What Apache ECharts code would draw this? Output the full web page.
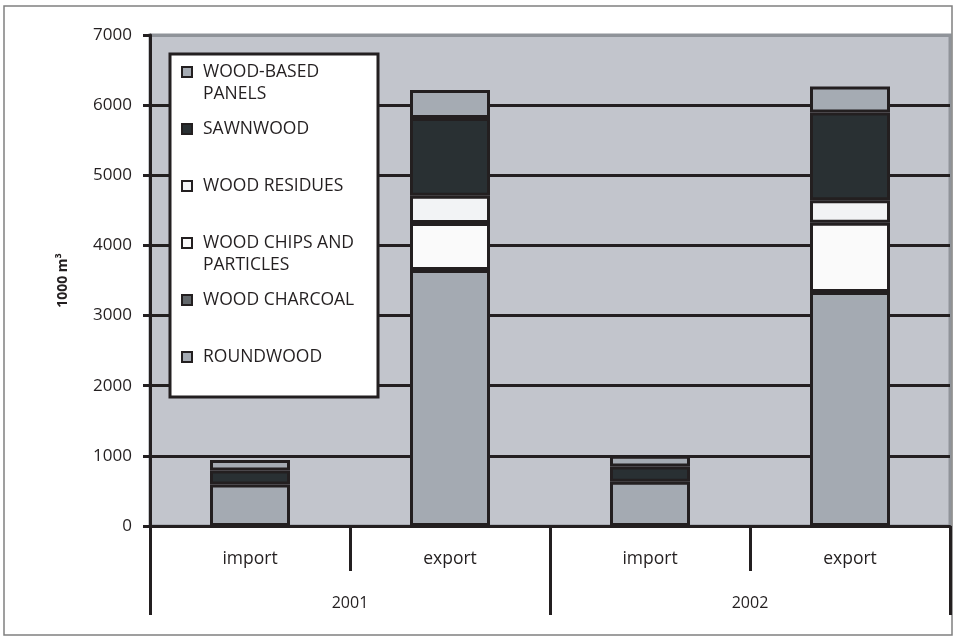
<!DOCTYPE html>
<html>
<head>
<meta charset="utf-8">
<script src="https://cdn.jsdelivr.net/npm/echarts@6/dist/echarts.min.js"></script>
<style>
  html, body { margin: 0; padding: 0; background: #fff; }
  #main { width: 956px; height: 638px; }
</style>
</head>
<body>
<div id="main"></div>
<script>
var flows = ['import', 'export', 'import', 'export'];
var years = ['2001', '2002'];
var yTicks = [0, 1000, 2000, 3000, 4000, 5000, 6000, 7000];

// '-' = nothing recorded for that flow
var roundwood = [590, 3650, 630, 3335];
var charcoal  = ['-', '-', '-', '-'];
var chips     = ['-', 670, '-', 990];
var residues  = ['-', 390, '-', 320];
var sawnwood  = [200, 1105, 220, 1250];
var panels    = [150, 400, 150, 370];

var ink = '#231f20';
var font = 'Open Sans';

// legend labels, padded to three lines so the icon sits on the first text line
var legendText = {
	'WOOD-BASED PANELS': ' \nWOOD-BASED\nPANELS',
	'SAWNWOOD': ' \nSAWNWOOD\n ',
	'WOOD RESIDUES': ' \nWOOD RESIDUES\n ',
	'WOOD CHIPS AND PARTICLES': ' \nWOOD CHIPS AND\nPARTICLES',
	'WOOD CHARCOAL': ' \nWOOD CHARCOAL\n ',
	'ROUNDWOOD': ' \nROUNDWOOD\n '
};

function serie(name, data, color) {
	return {
		name: name,
		type: 'bar',
		stack: 'total',
		barWidth: 80,
		data: data,
		itemStyle: { color: color, borderColor: ink, borderWidth: 3 }
	};
}

var splitColors = [];
for (var i = 0; i < yTicks.length - 1; i++) splitColors.push(ink);
splitColors.push('#8f9399');

var myChart = echarts.init(document.getElementById('main'));
var option = {
	animation: false,
	backgroundColor: '#fff',
	textStyle: { fontFamily: font, color: ink },
	graphic: [
		{
			type: 'rect', z: 0, silent: true,
			shape: { x: 4, y: 6, width: 948, height: 629 },
			style: { fill: 'none', stroke: '#808080', lineWidth: 1.5 }
		},
		{
			type: 'rect', z: 3, silent: true,
			shape: { x: 170, y: 54, width: 208, height: 343 },
			style: { fill: '#fff', stroke: ink, lineWidth: 3 }
		}
	],
	legend: {
		orient: 'vertical',
		left: 181,
		top: 39,
		padding: 0,
		itemGap: -9,
		itemWidth: 10,
		itemHeight: 10,
		z: 5,
		selectedMode: false,
		icon: 'rect',
		itemStyle: { borderColor: ink, borderWidth: 2 },
		textStyle: { fontFamily: font, fontSize: 17.5, color: ink, lineHeight: 22, padding: [0, 0, 0, 6] },
		formatter: function (name) { return legendText[name]; },
		data: ['WOOD-BASED PANELS', 'SAWNWOOD', 'WOOD RESIDUES', 'WOOD CHIPS AND PARTICLES', 'WOOD CHARCOAL', 'ROUNDWOOD']
	},
	grid: {
		left: 150, right: 6, top: 35, bottom: 112,
		show: true,
		backgroundColor: '#c2c5cc',
		borderColor: '#8f9399',
		borderWidth: 3
	},
	xAxis: [
		{
			type: 'category',
			data: flows,
			position: 'bottom',
			axisLine: { show: true, lineStyle: { color: ink, width: 3 } },
			axisTick: { show: true, interval: 0, length: 45, lineStyle: { color: ink, width: 3 } },
			axisLabel: { interval: 0, margin: 24, fontSize: 17.5, color: ink, fontFamily: font },
			splitLine: { show: false }
		},
		{
			type: 'category',
			data: years,
			position: 'bottom',
			axisLine: { show: false },
			axisTick: { show: true, interval: 0, length: 89, lineStyle: { color: ink, width: 3 } },
			axisLabel: { interval: 0, margin: 69, fontSize: 16, color: ink, fontFamily: font },
			splitLine: { show: false }
		}
	],
	yAxis: {
		type: 'value',
		min: 0,
		max: 7000,
		interval: 1000,
		name: '1000 m³',
		nameLocation: 'middle',
		nameGap: 80,
		nameRotate: 90,
		nameTextStyle: { fontWeight: 'bold', fontSize: 14, color: ink, fontFamily: font },
		axisLine: { show: true, lineStyle: { color: ink, width: 3 } },
		axisTick: { show: true, length: 7, lineStyle: { color: ink, width: 3 } },
		axisLabel: { margin: 18, fontSize: 17, color: ink, fontFamily: font, formatter: function (v) { return String(v); } },
		splitLine: { show: true, lineStyle: { color: splitColors, width: 3 } }
	},
	series: [
		serie('ROUNDWOOD', roundwood, '#a4aab2'),
		serie('WOOD CHARCOAL', charcoal, '#62676b'),
		serie('WOOD CHIPS AND PARTICLES', chips, '#fafafa'),
		serie('WOOD RESIDUES', residues, '#f2f3f5'),
		serie('SAWNWOOD', sawnwood, '#293033'),
		serie('WOOD-BASED PANELS', panels, '#a5abb3')
	]
};
myChart.setOption(option);
</script>
</body>
</html>
